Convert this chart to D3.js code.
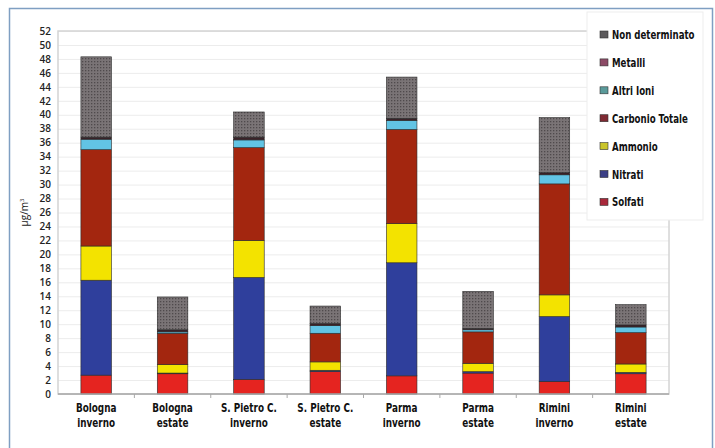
<!DOCTYPE html>
<html>
<head>
<meta charset="utf-8">
<script src="https://cdn.jsdelivr.net/npm/d3@7"></script>
<style>
  body { margin: 0; background: #fff; }
  svg { display: block; }
  .lbl { font-family: "DejaVu Sans Condensed", "Liberation Sans", sans-serif; font-weight: bold; fill: #111; }
</style>
</head>
<body>
<div id="chart"></div>
<script>
// categories and series values (µg/m³)
const categories = [
  ["Bologna", "inverno"], ["Bologna", "estate"],
  ["S. Pietro C.", "inverno"], ["S. Pietro C.", "estate"],
  ["Parma", "inverno"], ["Parma", "estate"],
  ["Rimini", "inverno"], ["Rimini", "estate"]
];
const seriesNames = ["Solfati", "Nitrati", "Ammonio", "Carbonio Totale", "Altri Ioni", "Metalli", "Non determinato"];
const solfati   = [2.7, 2.9, 2.1, 3.2, 2.6, 3.0, 1.8, 2.9];
const nitrati   = [13.6, 0.1, 14.6, 0.2, 16.2, 0.2, 9.3, 0.2];
const ammonio   = [4.9, 1.2, 5.3, 1.2, 5.6, 1.2, 3.1, 1.2];
const carbonio  = [13.8, 4.5, 13.3, 4.1, 13.5, 4.5, 15.9, 4.5];
const altriIoni = [1.5, 0.2, 1.1, 1.1, 1.3, 0.3, 1.3, 0.8];
const metalli   = [0.3, 0.3, 0.4, 0.3, 0.3, 0.2, 0.3, 0.3];
const nonDet    = [11.5, 4.7, 3.6, 2.5, 5.9, 5.3, 7.9, 2.9];
const yTicks = d3.range(0, 53, 2);

const colors = ["#e52420", "#2f3f9c", "#f3e300", "#a3260f", "#62c4e4", "#3a2228", "url(#dots)"];
const legendColors = ["#a8283a", "#3c3f86", "#c9c42a", "#7e2a33", "#5a9a9a", "#8c4a66", "#5c5a5c"];

// build rows for the stack
const columns = [solfati, nitrati, ammonio, carbonio, altriIoni, metalli, nonDet];
const rows = categories.map((c, i) => {
  const r = { cat: c.join(" ") };
  seriesNames.forEach((s, k) => r[s] = columns[k][i]);
  return r;
});

const W = 715, H = 448;
const margin = { top: 31, right: 46, bottom: 54, left: 58 };
const width = W - margin.left - margin.right;
const height = H - margin.top - margin.bottom;

const svg = d3.select("#chart").append("svg")
  .attr("width", W).attr("height", H);

// pattern for "Non determinato"
const pat = svg.append("defs").append("pattern")
  .attr("id", "dots").attr("patternUnits", "userSpaceOnUse")
  .attr("width", 3).attr("height", 3);
pat.append("rect").attr("width", 3).attr("height", 3).attr("fill", "#7a7476");
pat.append("rect").attr("x", 0).attr("y", 0).attr("width", 1.3).attr("height", 1.3).attr("fill", "#4f4a4c");

// outer frame
svg.append("rect")
  .attr("x", 9.5).attr("y", 8.5).attr("width", 703).attr("height", 448)
  .attr("fill", "none").attr("stroke", "#7f9fc2").attr("stroke-width", 1.5);

const g = svg.append("g").attr("transform", `translate(${margin.left},${margin.top})`);

const x = d3.scaleBand().domain(rows.map(d => d.cat)).range([0, width]).paddingInner(0.6).paddingOuter(0.3);
const y = d3.scaleLinear().domain([0, 52]).range([height, 0]);

// horizontal gridlines
g.append("g")
  .call(d3.axisLeft(y).tickValues(yTicks).tickSize(-width).tickFormat(""))
  .call(a => a.select(".domain").remove())
  .selectAll("line").attr("stroke", "#ececec");

// plot frame
g.append("rect")
  .attr("width", width).attr("height", height)
  .attr("fill", "none").attr("stroke", "#d4d4d4").attr("stroke-width", 1.5);

// y axis
g.append("g")
  .call(d3.axisLeft(y).tickValues(yTicks).tickSize(0).tickPadding(7))
  .call(a => a.select(".domain").remove())
  .selectAll("text")
  .attr("font-family", "'Open Sans', sans-serif")
  .attr("font-weight", 600)
  .attr("font-size", 10)
  .attr("fill", "#222");

// stacked bars
const stack = d3.stack().keys(seriesNames)(rows);
g.selectAll(".layer")
  .data(stack)
  .enter().append("g")
  .attr("class", "layer")
  .attr("fill", (d, i) => colors[i])
  .selectAll("rect")
  .data(d => d)
  .enter().append("rect")
  .attr("x", d => x(d.data.cat))
  .attr("y", d => y(d[1]))
  .attr("width", x.bandwidth())
  .attr("height", d => y(d[0]) - y(d[1]))
  .attr("stroke", "#2a2a2a")
  .attr("stroke-width", 0.6);

// x axis baseline with ticks between categories
const step = x.step();
g.append("line")
  .attr("x1", 0).attr("x2", width).attr("y1", height).attr("y2", height)
  .attr("stroke", "#a9a9a9").attr("stroke-width", 1.5);
g.selectAll(".xtick")
  .data(d3.range(1, categories.length))
  .enter().append("line")
  .attr("x1", i => x(rows[i].cat) - step * 0.3).attr("x2", i => x(rows[i].cat) - step * 0.3)
  .attr("y1", height).attr("y2", height + 4)
  .attr("stroke", "#a9a9a9");

// x labels (condensed by horizontal scaling)
const xl = g.selectAll(".xl")
  .data(categories)
  .enter().append("text")
  .attr("class", "lbl")
  .attr("text-anchor", "middle")
  .attr("font-size", 12)
  .attr("transform", (d, i) => `translate(${x(rows[i].cat) + x.bandwidth() / 2}, ${height + 18}) scale(0.82,1)`);
xl.append("tspan").attr("x", 0).text(d => d[0]);
xl.append("tspan").attr("x", 0).attr("dy", 15).text(d => d[1]);

// y axis title
svg.append("text")
  .attr("transform", `translate(28, ${margin.top + height / 2}) rotate(-90)`)
  .attr("text-anchor", "middle")
  .attr("font-family", "'Open Sans', sans-serif")
  .attr("font-size", 10)
  .attr("fill", "#222")
  .html("µg/m<tspan dy='-4' font-size='6'>3</tspan>");

// legend
svg.append("rect")
  .attr("x", 587).attr("y", 12).attr("width", 116).attr("height", 208)
  .attr("fill", "#fff").attr("stroke", "#ededed");
const legendOrder = seriesNames.slice().reverse();
const lg = svg.selectAll(".leg")
  .data(legendOrder)
  .enter().append("g")
  .attr("transform", (d, i) => `translate(600, ${35 + i * 27.9})`);
lg.append("rect")
  .attr("x", 0).attr("y", -4).attr("width", 8).attr("height", 7)
  .attr("fill", d => legendColors[seriesNames.indexOf(d)])
  .attr("stroke", "#333").attr("stroke-width", 0.6);
lg.append("text")
  .attr("class", "lbl")
  .attr("transform", "translate(12,4) scale(0.8,1)")
  .attr("font-size", 12)
  .text(d => d);
</script>
</body>
</html>
